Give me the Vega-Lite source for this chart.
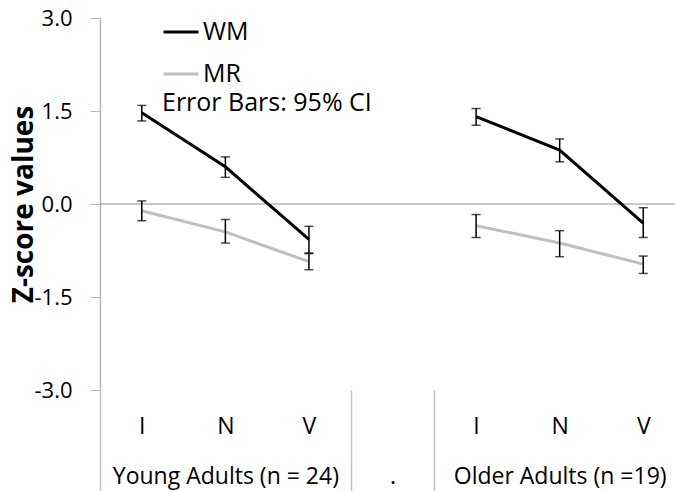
{
  "$schema": "https://vega.github.io/schema/vega-lite/v6.json",
  "width": 575,
  "height": 372,
  "autosize": {"type": "none"},
  "padding": {"left": 100, "top": 18, "right": 0, "bottom": 101},
  "background": "white",
  "config": {"view": {"stroke": null}, "font": "Open Sans", "axis": {"grid": false}},
  "datasets": {
    "pts": [
      {"grp": "Young", "cat": "I", "pos": 0, "series": "WM", "z": 1.47, "lo": 1.34, "hi": 1.59},
      {"grp": "Young", "cat": "N", "pos": 1, "series": "WM", "z": 0.60, "lo": 0.43, "hi": 0.76},
      {"grp": "Young", "cat": "V", "pos": 2, "series": "WM", "z": -0.57, "lo": -0.79, "hi": -0.36},
      {"grp": "Young", "cat": "I", "pos": 0, "series": "MR", "z": -0.11, "lo": -0.27, "hi": 0.05},
      {"grp": "Young", "cat": "N", "pos": 1, "series": "MR", "z": -0.45, "lo": -0.63, "hi": -0.25},
      {"grp": "Young", "cat": "V", "pos": 2, "series": "MR", "z": -0.93, "lo": -1.06, "hi": -0.80},
      {"grp": "Older", "cat": "I", "pos": 4, "series": "WM", "z": 1.41, "lo": 1.27, "hi": 1.54},
      {"grp": "Older", "cat": "N", "pos": 5, "series": "WM", "z": 0.87, "lo": 0.68, "hi": 1.05},
      {"grp": "Older", "cat": "V", "pos": 6, "series": "WM", "z": -0.31, "lo": -0.54, "hi": -0.06},
      {"grp": "Older", "cat": "I", "pos": 4, "series": "MR", "z": -0.35, "lo": -0.54, "hi": -0.17},
      {"grp": "Older", "cat": "N", "pos": 5, "series": "MR", "z": -0.63, "lo": -0.85, "hi": -0.43},
      {"grp": "Older", "cat": "V", "pos": 6, "series": "MR", "z": -0.97, "lo": -1.12, "hi": -0.84}
    ],
    "zero": [{"x0": -0.5, "x1": 6.38, "z": 0}]
  },
  "layer": [
    {
      "data": {"name": "zero"},
      "mark": {"type": "rule", "color": "#909090", "strokeWidth": 1},
      "encoding": {
        "x": {
          "field": "x0", "type": "quantitative",
          "scale": {"domain": [-0.5, 6.38], "nice": false, "zero": false},
          "axis": {
            "orient": "bottom",
            "values": [-0.5, 1, 2.5, 3, 3.5, 5],
            "labelExpr": "datum.value == 1 ? 'Young Adults (n = 24)' : datum.value == 3 ? '.' : datum.value == 5 ? 'Older Adults (n =19)' : ''",
            "domain": false,
            "ticks": true,
            "tickSize": 101,
            "tickColor": "#c0c0c0",
            "tickWidth": 1.5,
            "tickOpacity": {"condition": {"test": "datum.value == 1 || datum.value == 3 || datum.value == 5", "value": 0}, "value": 1},
            "labelFontSize": 23,
            "labelColor": "black",
            "labelBaseline": "alphabetic",
            "labelPadding": -8,
            "labelFlush": false,
            "labelOverlap": false,
            "labelLimit": 400,
            "title": null
          }
        },
        "x2": {"field": "x1"},
        "y": {
          "field": "z", "type": "quantitative",
          "scale": {"domain": [-3, 3], "nice": false, "zero": false},
          "axis": {
            "title": "Z-score values",
            "values": [-3, -1.5, 0, 1.5, 3],
            "labelExpr": "replace(format(datum.value, '.1f'), '\u2212', '-')",
            "tickSize": 10,
            "tickColor": "#b8b8b8",
            "domainColor": "#b8b8b8",
            "domainWidth": 1.5,
            "labelFontSize": 22,
            "labelColor": "black",
            "labelPadding": 18,
            "titleFontSize": 28,
            "titleFontWeight": "bold",
            "titleColor": "black",
            "titleAngle": -90,
            "titleX": -76,
            "titleY": 186,
            "titleAlign": "center",
            "titleBaseline": "middle"
          }
        }
      }
    },
    {
      "data": {"name": "pts"},
      "mark": {"type": "line", "strokeWidth": 3},
      "encoding": {
        "x": {
          "field": "pos", "type": "quantitative",
          "scale": {"domain": [-0.5, 6.38], "nice": false, "zero": false},
          "axis": {
            "orient": "bottom",
            "values": [0, 1, 2, 4, 5, 6],
            "labelExpr": "datum.value == 0 || datum.value == 4 ? 'I' : datum.value == 1 || datum.value == 5 ? 'N' : 'V'",
            "domain": false,
            "ticks": false,
            "tickSize": 0,
            "labelFontSize": 23,
            "labelColor": "black",
            "labelBaseline": "alphabetic",
            "labelPadding": 43,
            "labelFlush": false,
            "labelOverlap": false,
            "title": null
          }
        },
        "y": {
          "field": "z", "type": "quantitative",
          "scale": {"domain": [-3, 3], "nice": false, "zero": false},
          "axis": {
            "title": "Z-score values",
            "values": [-3, -1.5, 0, 1.5, 3],
            "labelExpr": "replace(format(datum.value, '.1f'), '\u2212', '-')",
            "tickSize": 10,
            "tickColor": "#b8b8b8",
            "domainColor": "#b8b8b8",
            "domainWidth": 1.5,
            "labelFontSize": 22,
            "labelColor": "black",
            "labelPadding": 18,
            "titleFontSize": 28,
            "titleFontWeight": "bold",
            "titleColor": "black",
            "titleAngle": -90,
            "titleX": -76,
            "titleY": 186,
            "titleAlign": "center",
            "titleBaseline": "middle"
          }
        },
        "color": {
          "field": "series", "type": "nominal",
          "scale": {"domain": ["WM", "MR"], "range": ["black", "#bfbfbf"]},
          "legend": {
            "orient": "none",
            "legendX": 62,
            "legendY": -5,
            "padding": 0,
            "title": "Error Bars: 95% CI",
            "titleOrient": "bottom",
            "titleFontSize": 25,
            "titleFontWeight": "normal",
            "titleColor": "black",
            "titlePadding": 4,
            "titleLimit": 400,
            "labelFontSize": 25,
            "labelColor": "black",
            "labelOffset": 3,
            "labelLimit": 200,
            "symbolType": "stroke",
            "symbolSize": 1225,
            "symbolStrokeWidth": 3,
            "rowPadding": 10
          }
        },
        "detail": {"field": "grp", "type": "nominal"}
      }
    },
    {
      "data": {"name": "pts"},
      "mark": {"type": "rule", "color": "black", "strokeWidth": 1.5},
      "encoding": {
        "x": {"field": "pos", "type": "quantitative", "axis": null},
        "y": {
          "field": "lo", "type": "quantitative",
          "axis": {
            "title": "Z-score values",
            "values": [-3, -1.5, 0, 1.5, 3],
            "labelExpr": "replace(format(datum.value, '.1f'), '\u2212', '-')",
            "tickSize": 10,
            "tickColor": "#b8b8b8",
            "domainColor": "#b8b8b8",
            "domainWidth": 1.5,
            "labelFontSize": 22,
            "labelColor": "black",
            "labelPadding": 18,
            "titleFontSize": 28,
            "titleFontWeight": "bold",
            "titleColor": "black",
            "titleAngle": -90,
            "titleX": -76,
            "titleY": 186,
            "titleAlign": "center",
            "titleBaseline": "middle"
          }
        },
        "y2": {"field": "hi"}
      }
    },
    {
      "data": {"name": "pts"},
      "mark": {"type": "tick", "orient": "horizontal", "color": "black", "thickness": 1.5, "size": 9},
      "encoding": {
        "x": {"field": "pos", "type": "quantitative", "axis": null},
        "y": {
          "field": "lo", "type": "quantitative",
          "axis": {
            "title": "Z-score values",
            "values": [-3, -1.5, 0, 1.5, 3],
            "labelExpr": "replace(format(datum.value, '.1f'), '\u2212', '-')",
            "tickSize": 10,
            "tickColor": "#b8b8b8",
            "domainColor": "#b8b8b8",
            "domainWidth": 1.5,
            "labelFontSize": 22,
            "labelColor": "black",
            "labelPadding": 18,
            "titleFontSize": 28,
            "titleFontWeight": "bold",
            "titleColor": "black",
            "titleAngle": -90,
            "titleX": -76,
            "titleY": 186,
            "titleAlign": "center",
            "titleBaseline": "middle"
          }
        }
      }
    },
    {
      "data": {"name": "pts"},
      "mark": {"type": "tick", "orient": "horizontal", "color": "black", "thickness": 1.5, "size": 9},
      "encoding": {
        "x": {"field": "pos", "type": "quantitative", "axis": null},
        "y": {
          "field": "hi", "type": "quantitative",
          "axis": {
            "title": "Z-score values",
            "values": [-3, -1.5, 0, 1.5, 3],
            "labelExpr": "replace(format(datum.value, '.1f'), '\u2212', '-')",
            "tickSize": 10,
            "tickColor": "#b8b8b8",
            "domainColor": "#b8b8b8",
            "domainWidth": 1.5,
            "labelFontSize": 22,
            "labelColor": "black",
            "labelPadding": 18,
            "titleFontSize": 28,
            "titleFontWeight": "bold",
            "titleColor": "black",
            "titleAngle": -90,
            "titleX": -76,
            "titleY": 186,
            "titleAlign": "center",
            "titleBaseline": "middle"
          }
        }
      }
    }
  ],
  "resolve": {"axis": {"x": "independent"}}
}
